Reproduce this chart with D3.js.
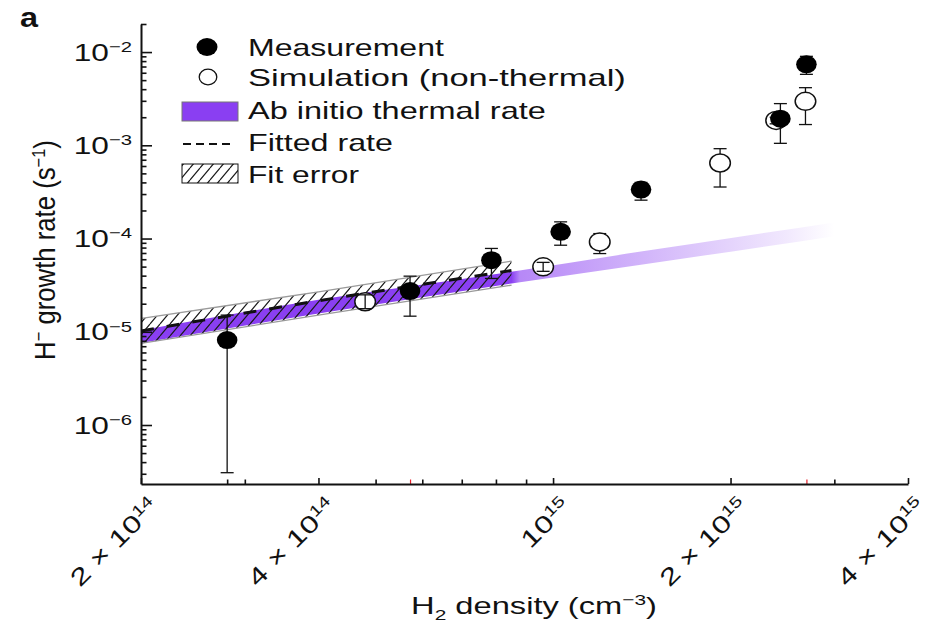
<!DOCTYPE html>
<html>
<head>
<meta charset="utf-8">
<script src="https://cdn.jsdelivr.net/npm/d3@7"></script>
<style>
  html, body { margin: 0; padding: 0; background: #fff; }
  svg { display: block; }
  text { font-family: "Liberation Sans", Arial, Helvetica, sans-serif; fill: #111; }
</style>
</head>
<body>
<svg id="chart" width="940" height="625"></svg>
<script>
// Measured H- growth rates vs H2 density (cm^-3), rates in s^-1
const measDensity = [2.8e14, 5.72e14, 7.86e14, 1.03e15, 1.41e15, 2.43e15, 2.69e15];
const measRate    = [8.15e-6, 2.73e-5, 5.86e-5, 1.18e-4, 3.35e-4, 1.93e-3, 7.38e-3];
const measLow     = [3.08e-7, 1.47e-5, 3.73e-5, 8.48e-5, 2.58e-4, 1.05e-3, 5.77e-3];
const measHigh    = [1.51e-5, 3.95e-5, 7.83e-5, 1.51e-4, 4.0e-4, 2.8e-3, 9.0e-3];

// Non-thermal simulation results
const simDensity = [4.8e14, 9.62e14, 1.2e15, 1.92e15, 2.39e15, 2.68e15];
const simRate    = [2.1e-5, 4.97e-5, 9.2e-5, 6.46e-4, 1.85e-3, 2.96e-3];
const simLow     = [1.77e-5, 4.45e-5, 6.9e-5, 3.57e-4, 1.7e-3, 1.67e-3];
const simHigh    = [2.49e-5, 5.55e-5, 1.13e-4, 9.2e-4, 2.0e-3, 4.15e-3];

// Ab initio thermal rate band
const thermDensity = [2e14, 4e14, 8.5e14, 1.4e15, 3e15];
const thermLow     = [7.6e-6, 1.57e-5, 3.3e-5, 5.2e-5, 1.06e-4];
const thermHigh    = [1.04e-5, 2.2e-5, 4.4e-5, 7.2e-5, 1.49e-4];

// Fitted rate and its uncertainty
const fitDensity = [2e14, 4e14, 8.5e14];
const fitRate    = [1.02e-5, 2.15e-5, 4.53e-5];
const fitLow     = [7.5e-6, 1.51e-5, 3.16e-5];
const fitHigh    = [1.39e-5, 2.68e-5, 5.73e-5];

// Axis ticks and labels
const xMajorTicks = [2e14, 4e14, 1e15, 2e15, 4e15];
const xTickMantissa = ["2 × 10", "4 × 10", "10", "2 × 10", "4 × 10"];
const xTickExponent = ["14", "14", "15", "15", "15"];
const xExtraTicks = [2.8e14];
const xMarkedTicks = [5.72e14, 2.69e15];
const yMajorTicks = [1e-6, 1e-5, 1e-4, 1e-3, 1e-2];
const yTickExponent = ["−6", "−5", "−4", "−3", "−2"];

const legendLabels = ["Measurement", "Simulation (non-thermal)", "Ab initio thermal rate", "Fitted rate", "Fit error"];

const PURPLE = "#8a3ff2";
const SX = 1.32; // horizontal glyph stretch of the typeface

const svg = d3.select("#chart");
const x = d3.scaleLog().domain([2e14, 4e15]).range([141, 908]);
const y = d3.scaleLog().domain([2.33e-7, 2.0e-2]).range([484, 24]);

const defs = svg.append("defs");
defs.append("clipPath").attr("id", "plotClip")
  .append("rect").attr("x", x.range()[0]).attr("y", y.range()[1])
  .attr("width", x.range()[1] - x.range()[0]).attr("height", y.range()[0] - y.range()[1]);

// purple fades out beyond the fitted density range
const gx1 = x(thermDensity[0]), gx2 = x(thermDensity[thermDensity.length - 1]);
const fitEndOff = (x(fitDensity[fitDensity.length - 1]) - gx1) / (gx2 - gx1);
const grad = defs.append("linearGradient").attr("id", "thermFade")
  .attr("gradientUnits", "userSpaceOnUse")
  .attr("x1", gx1).attr("x2", gx2).attr("y1", 0).attr("y2", 0);
[[0, 1], [fitEndOff, 1], [fitEndOff + 0.012, 0.62], [0.93, 0.12], [1, 0.0]].forEach(([o, a]) =>
  grad.append("stop").attr("offset", o).attr("stop-color", PURPLE).attr("stop-opacity", a));

const pat = defs.append("pattern").attr("id", "hatch")
  .attr("patternUnits", "userSpaceOnUse").attr("width", 10).attr("height", 12);
pat.append("path").attr("d", "M-10,12L0,0M0,12L10,0M10,12L20,0")
  .attr("stroke", "#1a1a1a").attr("stroke-width", 1.2).attr("fill", "none");

const plot = svg.append("g").attr("clip-path", "url(#plotClip)");

// thermal band
const thermRows = thermDensity.map((d, i) => ({ d, lo: thermLow[i], hi: thermHigh[i] }));
plot.append("path").datum(thermRows)
  .attr("fill", "url(#thermFade)")
  .attr("d", d3.area().curve(d3.curveMonotoneX)
    .x(r => x(r.d)).y0(r => y(r.lo)).y1(r => y(r.hi)));

// fit error band
const fitRows = fitDensity.map((d, i) => ({ d, v: fitRate[i], lo: fitLow[i], hi: fitHigh[i] }));
plot.append("path").datum(fitRows)
  .attr("fill", "url(#hatch)")
  .attr("d", d3.area().curve(d3.curveMonotoneX)
    .x(r => x(r.d)).y0(r => y(r.lo)).y1(r => y(r.hi)));
["lo", "hi"].forEach(k =>
  plot.append("path").datum(fitRows)
    .attr("fill", "none").attr("stroke", "#9a9a9a").attr("stroke-width", 1.3)
    .attr("d", d3.line().curve(d3.curveMonotoneX).x(r => x(r.d)).y(r => y(r[k]))));

// fitted rate
plot.append("path").datum(fitRows)
  .attr("fill", "none").attr("stroke", "#111").attr("stroke-width", 3)
  .attr("stroke-dasharray", "13,13")
  .attr("d", d3.line().curve(d3.curveMonotoneX).x(r => x(r.d)).y(r => y(r.v)));

// markers
const RX = 10.3, RY = 9, CAP = 6.5;
const simRows = simDensity.map((d, i) => ({ d, v: simRate[i], lo: simLow[i], hi: simHigh[i] }));
const measRows = measDensity.map((d, i) => ({ d, v: measRate[i], lo: measLow[i], hi: measHigh[i] }));

function errorBars(g, rows) {
  const eb = g.selectAll(null).data(rows).join("g")
    .attr("stroke", "#111").attr("stroke-width", 1.3).attr("fill", "none");
  eb.append("line").attr("x1", r => x(r.d)).attr("x2", r => x(r.d))
    .attr("y1", r => y(r.lo)).attr("y2", r => y(r.hi));
  eb.append("line").attr("x1", r => x(r.d) - CAP).attr("x2", r => x(r.d) + CAP)
    .attr("y1", r => y(r.lo)).attr("y2", r => y(r.lo));
  eb.append("line").attr("x1", r => x(r.d) - CAP).attr("x2", r => x(r.d) + CAP)
    .attr("y1", r => y(r.hi)).attr("y2", r => y(r.hi));
}
const inside = r => (y(r.lo) - y(r.v)) < RY && (y(r.v) - y(r.hi)) < RY;

const marks = svg.append("g");
errorBars(marks, simRows);
marks.selectAll(null).data(simRows).join("ellipse")
  .attr("cx", r => x(r.d)).attr("cy", r => y(r.v)).attr("rx", RX).attr("ry", RY)
  .attr("fill", "#fff").attr("stroke", "#111").attr("stroke-width", 1.5);
errorBars(marks, simRows.filter(inside));
errorBars(marks, measRows);
marks.selectAll(null).data(measRows).join("ellipse")
  .attr("cx", r => x(r.d)).attr("cy", r => y(r.v)).attr("rx", RX).attr("ry", RY)
  .attr("fill", "#000");

// axes
const axisStyle = g => {
  g.selectAll("text").remove();
  g.selectAll("line").attr("stroke", "#111").attr("stroke-width", 1.6);
  g.select(".domain").attr("stroke", "#111").attr("stroke-width", 2);
};
const xMinor = x.ticks().filter(t => !xMajorTicks.some(m => Math.abs(m - t) / m < 1e-6)).concat(xExtraTicks);
const yMinor = y.ticks().filter(t => !yMajorTicks.some(m => Math.abs(m - t) / m < 1e-6));

svg.append("g").attr("transform", `translate(0,${y.range()[0]})`)
  .call(d3.axisBottom(x).tickValues(xMinor).tickSizeInner(-4.5).tickSizeOuter(0).tickFormat(""))
  .call(axisStyle).call(g => g.select(".domain").remove());
svg.append("g").attr("transform", `translate(0,${y.range()[0]})`)
  .call(d3.axisBottom(x).tickValues(xMarkedTicks).tickSizeInner(-4.5).tickSizeOuter(0).tickFormat(""))
  .call(axisStyle).call(g => g.select(".domain").remove())
  .call(g => g.selectAll("line").attr("stroke", "#e8202a").attr("stroke-width", 1.2));
svg.append("g").attr("transform", `translate(0,${y.range()[0]})`)
  .call(d3.axisBottom(x).tickValues(xMajorTicks).tickSizeInner(-6).tickSizeOuter(0).tickFormat(""))
  .call(axisStyle);

svg.append("g").attr("transform", `translate(${x.range()[0]},0)`)
  .call(d3.axisLeft(y).tickValues(yMinor).tickSizeInner(-5.5).tickSizeOuter(0).tickFormat(""))
  .call(axisStyle).call(g => g.select(".domain").remove());
svg.append("g").attr("transform", `translate(${x.range()[0]},0)`)
  .call(d3.axisLeft(y).tickValues(yMajorTicks).tickSizeInner(-11).tickSizeOuter(0).tickFormat(""))
  .call(axisStyle);

// text helper: text with super/subscript tspans, placed at (tx,ty), rotated,
// and stretched along its baseline (sx) and across it (sy); if a width is
// given the baseline stretch is chosen so the text spans that width
function label(o) {
  const size = o.size || 24;
  const g = svg.append("g");
  const t = g.append("text").attr("font-size", size)
    .attr("text-anchor", o.anchor || "start").attr("font-weight", o.weight || "normal");
  let shift = 0;
  o.parts.forEach(p => {
    const [txt, kind] = Array.isArray(p) ? p : [p, "n"];
    const target = kind === "sup" ? -size * 0.36 : kind === "sub" ? size * 0.27 : 0;
    t.append("tspan").attr("dy", target - shift)
      .attr("font-size", kind === "n" ? size : size * 0.64).text(txt);
    shift = target;
  });
  let sx = o.sx || SX;
  if (o.width) sx = o.width / t.node().getComputedTextLength();
  g.attr("transform", `translate(${o.tx},${o.ty}) rotate(${o.rot || 0}) scale(${sx},${o.sy || 1})`);
  return t;
}

// y tick labels
yMajorTicks.forEach((v, i) =>
  label({ tx: 132, ty: y(v) + 8.5, parts: ["10", [yTickExponent[i], "sup"]], anchor: "end" }));

// x tick labels
xMajorTicks.forEach((v, i) =>
  label({ tx: x(v) + 19, ty: 508, rot: -45, sx: 1.34,
          parts: [xTickMantissa[i], [xTickExponent[i], "sup"]], anchor: "end" }));

// axis titles
label({ tx: 534, ty: 614, width: 246, anchor: "middle",
        parts: ["H", ["2", "sub"], " density (cm", ["−3", "sup"], ")"] });
label({ tx: 55, ty: 250, rot: -90, width: 220, sy: 1.15, size: 25, anchor: "middle",
        parts: ["H", ["−", "sup"], " growth rate (s", ["−1", "sup"], ")"] });

// panel letter
label({ tx: 20, ty: 26.5, size: 27, sx: 1.2, sy: 1.05, weight: "bold", parts: ["a"] });

// legend
const lg = svg.append("g");
lg.append("ellipse").attr("cx", 207).attr("cy", 47).attr("rx", 10.5).attr("ry", 9).attr("fill", "#000");
lg.append("ellipse").attr("cx", 208).attr("cy", 77).attr("rx", 8.8).attr("ry", 7.8)
  .attr("fill", "#fff").attr("stroke", "#111").attr("stroke-width", 1.3);
lg.append("rect").attr("x", 182).attr("y", 102).attr("width", 56).attr("height", 19)
  .attr("fill", PURPLE).attr("stroke", "#777").attr("stroke-width", 1);
lg.append("line").attr("x1", 183).attr("x2", 232).attr("y1", 144).attr("y2", 144)
  .attr("stroke", "#111").attr("stroke-width", 1.8).attr("stroke-dasharray", "8,5");
lg.append("rect").attr("x", 182).attr("y", 164).attr("width", 56).attr("height", 19)
  .attr("fill", "url(#hatch)").attr("stroke", "#111").attr("stroke-width", 1);
const legendBase = [56, 86, 119, 151, 183];
const legendWidth = [196, 378, 298, 145, 111];
legendLabels.forEach((s, i) =>
  label({ tx: 248, ty: legendBase[i], width: legendWidth[i], parts: [s] }));
</script>
</body>
</html>
